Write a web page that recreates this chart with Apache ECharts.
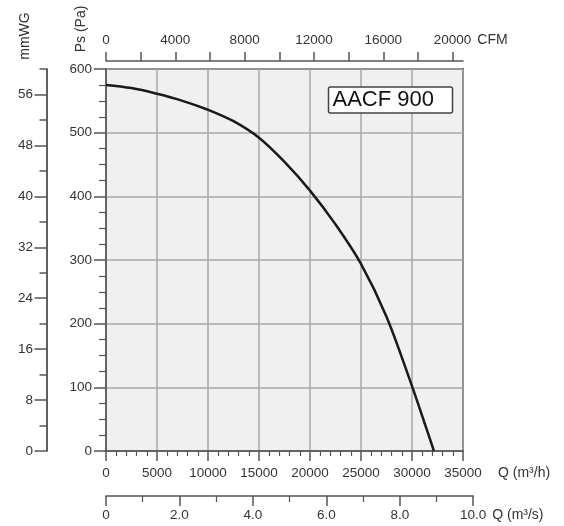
<!DOCTYPE html>
<html><head><meta charset="utf-8">
<script src="https://cdn.jsdelivr.net/npm/echarts@6/dist/echarts.min.js"></script>
<style>html,body{margin:0;padding:0;background:#fff}#c{width:564px;height:526px}</style>
</head><body><div id="c"></div>
<script>
// Fan curve: flow Q (m³/h) vs static pressure Ps (Pa)
const qM3h = [0, 2500, 5000, 7500, 10000, 12500, 15000, 17500, 20000, 22500, 25000, 27500, 30000, 31000, 32150];
const psPa = [575, 570, 561, 550, 536, 518, 492, 454, 409, 356, 294, 211, 102, 55, 0];
// Tick values
const qM3hTicks = [0, 5000, 10000, 15000, 20000, 25000, 30000, 35000];
const psTicks = [0, 100, 200, 300, 400, 500, 600];
const cfmTicks = [0, 2000, 4000, 6000, 8000, 10000, 12000, 14000, 16000, 18000, 20000];
const cfmLabels = [0, 4000, 8000, 12000, 16000, 20000];
const mmwgMinor = [0, 4, 8, 12, 16, 20, 24, 28, 32, 36, 40, 44, 48, 52, 56, 60];
const mmwgLabels = [0, 8, 16, 24, 32, 40, 48, 56];
const m3sValues = [0, 2, 4, 6, 8, 10];
const m3sLabels = ['0', '2.0', '4.0', '6.0', '8.0', '10.0'];
const modelName = 'AACF 900';

const M3H_PER_CFM = 1.699;
const PA_PER_MMWG = 10;
const FONT = 'Liberation Sans, Arial, sans-serif';
const AX = '#555';
const TXT = '#333';

const chart = echarts.init(document.getElementById('c'), null, {renderer: 'canvas'});
const lbl = (m) => ({color: TXT, fontSize: 13.5, fontFamily: FONT, margin: m});
const line = {show: true, onZero: false, lineStyle: {color: AX, width: 1.5}};
const nameStyle = (va, pad) => ({color: TXT, fontSize: 14, fontFamily: FONT, verticalAlign: va, padding: pad});

chart.setOption({
  animation: false,
  title: {
    text: modelName, right: 111, top: 87,
    padding: [1, 19, 1, 4],
    borderColor: '#444', borderWidth: 1.5, borderRadius: 2, backgroundColor: '#fff',
    textStyle: {fontSize: 22, fontWeight: 'normal', color: '#111', fontFamily: FONT, lineHeight: 24}
  },
  graphic: [
    {type: 'text', x: 25, y: 36, rotation: Math.PI / 2,
     style: {text: 'mmWG', font: '14px ' + FONT, fill: TXT, align: 'center', verticalAlign: 'middle'}},
    {type: 'text', x: 81, y: 29, rotation: Math.PI / 2,
     style: {text: 'Ps (Pa)', font: '14px ' + FONT, fill: TXT, align: 'center', verticalAlign: 'middle'}}
  ],
  grid: [
    {left: 106, top: 69, width: 357, height: 382, show: true,
     backgroundColor: '#f0f0f0', borderColor: AX, borderWidth: 2},
    {left: 106, top: 480, width: 357 * 36000 / 35000, height: 16, show: false}
  ],
  xAxis: [
    {type: 'value', gridIndex: 0, position: 'bottom', min: 0, max: 35000, interval: 5000,
     name: 'Q (m³/h)', nameLocation: 'end', nameGap: 35,
     nameTextStyle: nameStyle('top', [15, 0, 0, 0]),
     axisLine: line,
     axisTick: {show: true, length: 10, lineStyle: {color: AX, width: 1.5}},
     minorTick: {show: true, splitNumber: 5, length: 5, lineStyle: {color: AX, width: 1.2}},
     axisLabel: Object.assign(lbl(15), {formatter: v => qM3hTicks.includes(v) ? String(v) : ''}),
     splitLine: {show: true, lineStyle: {color: '#a9a9a9', width: 1.5}}},
    {type: 'value', gridIndex: 0, position: 'top', offset: 8, min: 0, max: 35000 / M3H_PER_CFM,
     name: 'CFM', nameLocation: 'end', nameGap: 11,
     nameTextStyle: nameStyle('bottom', [0, 0, 14, 0]),
     axisLine: line,
     axisTick: {show: true, length: 9, customValues: cfmTicks, lineStyle: {color: AX, width: 1.5}},
     axisLabel: Object.assign(lbl(13.5), {customValues: cfmLabels, formatter: v => String(v)}),
     splitLine: {show: false}},
    {type: 'value', gridIndex: 1, position: 'bottom', min: 0, max: 10, interval: 2,
     name: 'Q (m³/s)', nameLocation: 'end', nameGap: 19,
     nameTextStyle: nameStyle('top', [12, 0, 0, 0]),
     axisLine: line,
     axisTick: {show: true, length: 10, lineStyle: {color: AX, width: 1.5}},
     minorTick: {show: true, splitNumber: 2, length: 6, lineStyle: {color: AX, width: 1.2}},
     axisLabel: Object.assign(lbl(12.5), {formatter: v => m3sLabels[m3sValues.indexOf(v)] || ''}),
     splitLine: {show: false}}
  ],
  yAxis: [
    {type: 'value', gridIndex: 0, position: 'left', min: 0, max: 600, interval: 100,
     axisLine: line,
     axisTick: {show: true, length: 12, lineStyle: {color: AX, width: 1.5}},
     minorTick: {show: true, splitNumber: 4, length: 7, lineStyle: {color: AX, width: 1.2}},
     axisLabel: Object.assign(lbl(14), {formatter: v => psTicks.includes(v) ? String(v) : ''}),
     splitLine: {show: true, lineStyle: {color: '#a9a9a9', width: 1.5}}},
    {type: 'value', gridIndex: 0, position: 'left', offset: 59.5, min: 0, max: 600 / PA_PER_MMWG,
     axisLine: line,
     axisTick: {show: true, length: 7, customValues: mmwgMinor, lineStyle: {color: AX, width: 1.5}},
     axisLabel: {show: false}, splitLine: {show: false}},
    {type: 'value', gridIndex: 0, position: 'left', offset: 59.5, min: 0, max: 600 / PA_PER_MMWG,
     axisLine: line,
     axisTick: {show: true, length: 12, customValues: mmwgLabels, lineStyle: {color: AX, width: 1.5}},
     axisLabel: Object.assign(lbl(13.5), {customValues: mmwgLabels, formatter: v => String(v)}),
     splitLine: {show: false}},
    {type: 'value', gridIndex: 1, show: false, min: 0, max: 1}
  ],
  series: [{
    type: 'line', xAxisIndex: 0, yAxisIndex: 0,
    data: qM3h.map((q, i) => [q, psPa[i]]),
    smooth: 0.35, showSymbol: false, z: 5,
    lineStyle: {color: '#1a1a1a', width: 2.5}
  }]
});
</script></body></html>
